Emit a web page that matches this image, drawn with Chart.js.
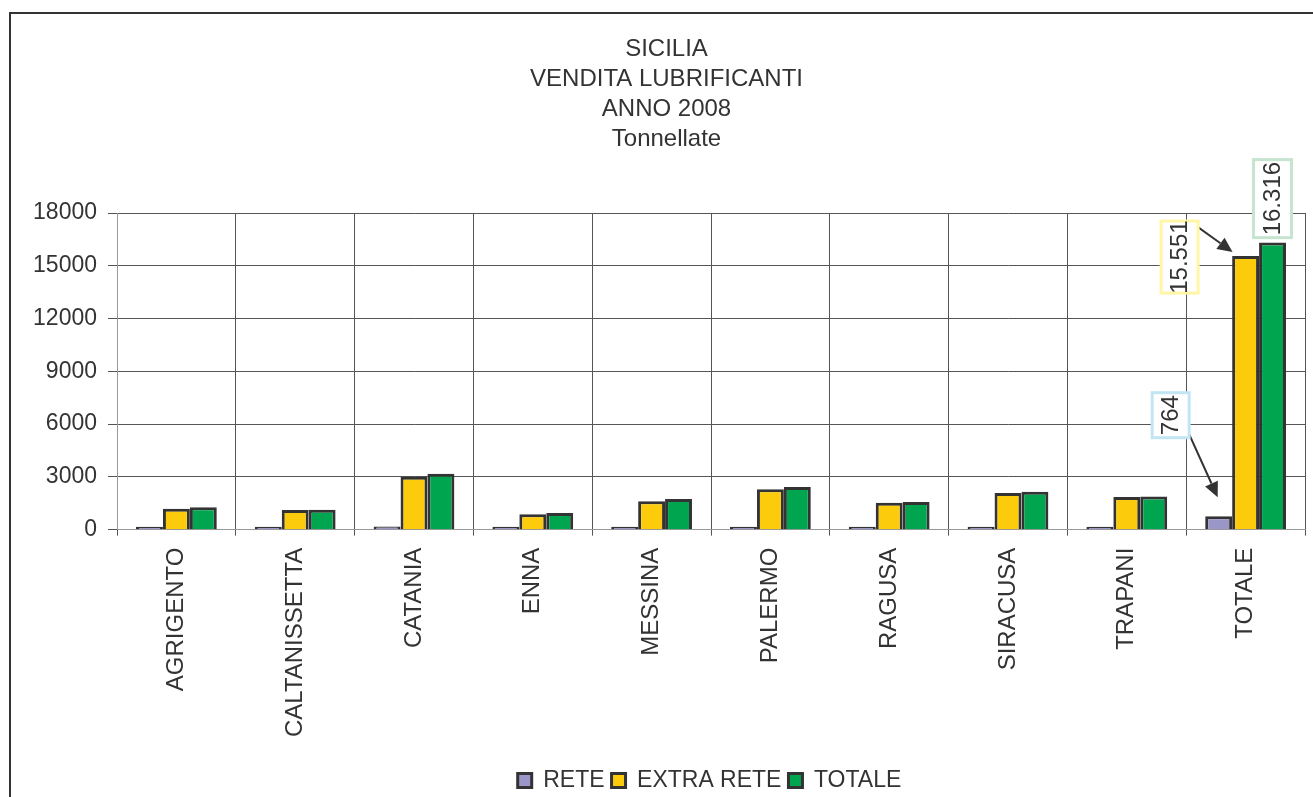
<!DOCTYPE html>
<html lang="it">
<head>
    <meta charset="UTF-8">
    <script src="https://cdn.jsdelivr.net/npm/chart.js@4.4.1/dist/chart.umd.min.js"></script>
    <title>Sicilia vendita lubrificanti 2008</title>
    <style type="text/css">
        body { margin: 0; background: #fff; }
        #frame {
            position: absolute; left: 9px; top: 12px; width: 1310px; height: 790px;
            border-left: 2px solid #333; border-top: 2px solid #333;
        }
        #wrap { position: absolute; left: 0; top: 0; width: 1313px; height: 797px; }
    </style>
</head>
<body>
    <div id="frame"></div>
    <div id="wrap"><canvas id="lubCanvas"></canvas></div>
<script>

// data (tonnellate)
var province = ["AGRIGENTO", "CALTANISSETTA", "CATANIA", "ENNA", "MESSINA",
                "PALERMO", "RAGUSA", "SIRACUSA", "TRAPANI", "TOTALE"];
var rete      = [80, 25, 175, 60, 135, 140, 40, 70, 40, 764];
var extraRete = [1190, 1110, 3000, 880, 1610, 2290, 1530, 2080, 1850, 15551];
var totale    = [1270, 1135, 3175, 940, 1745, 2430, 1570, 2150, 1890, 16316];
var titleLines = ["SICILIA", "VENDITA LUBRIFICANTI", "ANNO 2008", "Tonnellate"];

var FONT = "'Liberation Sans', Arial, sans-serif";
var INK = "#333";

function fmt(v) {
    return String(v).replace(/\B(?=(\d{3})+(?!\d))/g, ".");
}

function arrow(ctx, x1, y1, x2, y2) {
    var a = Math.atan2(y2 - y1, x2 - x1);
    var hl = 15, hw = 7;
    var bx = x2 - hl * Math.cos(a), by = y2 - hl * Math.sin(a);
    ctx.beginPath();
    ctx.moveTo(x1, y1);
    ctx.lineTo(bx, by);
    ctx.strokeStyle = INK;
    ctx.lineWidth = 2;
    ctx.stroke();
    ctx.beginPath();
    ctx.moveTo(x2, y2);
    ctx.lineTo(bx + hw * Math.sin(a), by - hw * Math.cos(a));
    ctx.lineTo(bx - hw * Math.sin(a), by + hw * Math.cos(a));
    ctx.closePath();
    ctx.fillStyle = INK;
    ctx.fill();
}

function labelBox(ctx, cx, cy, w, h, border, text) {
    ctx.fillStyle = "#fff";
    ctx.fillRect(cx - w / 2, cy - h / 2, w, h);
    ctx.strokeStyle = border;
    ctx.lineWidth = 3;
    ctx.strokeRect(cx - w / 2, cy - h / 2, w, h);
    ctx.save();
    ctx.translate(cx, cy);
    ctx.rotate(-Math.PI / 2);
    ctx.fillStyle = INK;
    ctx.font = "24px " + FONT;
    ctx.textAlign = "center";
    ctx.textBaseline = "middle";
    ctx.fillText(text, 0, 1);
    ctx.restore();
}

// nudge title and legend to where the original has them
var nudgePlugin = {
    id: "nudge",
    afterLayout: function(chart) {
        if (chart.titleBlock) {
            chart.titleBlock.left += 4;
            chart.titleBlock.right += 4;
        }
        if (chart.legend) {
            chart.legend.left += 47;
            chart.legend.right += 47;
            chart.legend.top += 5;
            chart.legend.bottom += 5;
        }
    }
};

// callout labels on the TOTALE group
var calloutPlugin = {
    id: "callouts",
    afterDatasetsDraw: function(chart) {
        var ctx = chart.ctx;
        var last = province.length - 1;
        var bR = chart.getDatasetMeta(0).data[last];
        var bE = chart.getDatasetMeta(1).data[last];
        var bT = chart.getDatasetMeta(2).data[last];
        ctx.save();
        // totale
        labelBox(ctx, bT.x, bT.y - 44, 38, 78, "#c6e4cf", fmt(totale[last]));
        // extra rete
        arrow(ctx, bE.x - 56, bE.y - 35, bE.x - 13, bE.y - 4);
        labelBox(ctx, bE.x - 66, bE.y + 1, 37, 72, "#fff6a6", fmt(extraRete[last]));
        // rete
        arrow(ctx, bR.x - 30, bR.y - 83, bR.x - 1, bR.y - 19);
        labelBox(ctx, bR.x - 48, bR.y - 101, 37, 45, "#c2e5f4", fmt(rete[last]));
        ctx.restore();
    }
};

var ctx = document.getElementById("lubCanvas");
var chart = new Chart(ctx, {
    type: "bar",
    data: {
        labels: province,
        datasets: [
            { label: "RETE", data: rete, backgroundColor: "#9b96c8", borderColor: INK, borderWidth: 3, minBarLength: 3 },
            { label: "EXTRA RETE", data: extraRete, backgroundColor: "#fccb0b", borderColor: INK, borderWidth: 3 },
            { label: "TOTALE", data: totale, backgroundColor: "#00a550", borderColor: INK, borderWidth: 3 }
        ]
    },
    options: {
        responsive: true,
        maintainAspectRatio: false,
        animation: false,
        layout: { padding: { left: 20, right: 8, top: 12, bottom: 0 } },
        datasets: { bar: { categoryPercentage: 0.68, barPercentage: 1.0 } },
        plugins: {
            tooltip: { enabled: false },
            title: {
                display: true,
                text: titleLines,
                color: INK,
                font: { family: FONT, size: 24, weight: "normal", lineHeight: 30 / 24 },
                padding: { top: 22, bottom: 59 }
            },
            legend: {
                position: "bottom",
                labels: {
                    color: INK,
                    font: { family: FONT, size: 23 },
                    boxWidth: 14,
                    boxHeight: 14,
                    padding: 7
                }
            }
        },
        scales: {
            x: {
                grid: { color: "#555", lineWidth: 1, offset: true, tickLength: 6, drawTicks: true },
                border: { color: "#999", width: 1 },
                ticks: {
                    color: INK,
                    font: { family: FONT, size: 24 },
                    minRotation: 90,
                    maxRotation: 90,
                    autoSkip: false,
                    padding: 12
                },
                afterFit: function(scale) { scale.height = scale.height + 8; }
            },
            y: {
                min: 0,
                max: 18000,
                grid: { color: "#555", lineWidth: 1, tickLength: 9 },
                border: { color: "#999", width: 1 },
                ticks: {
                    stepSize: 3000,
                    color: INK,
                    font: { family: FONT, size: 23 },
                    padding: 11,
                    callback: function(v) { return String(v); }
                },
                afterFit: function(scale) { scale.width = 97; }
            }
        }
    },
    plugins: [nudgePlugin, calloutPlugin]
});

</script>
</body>
</html>
